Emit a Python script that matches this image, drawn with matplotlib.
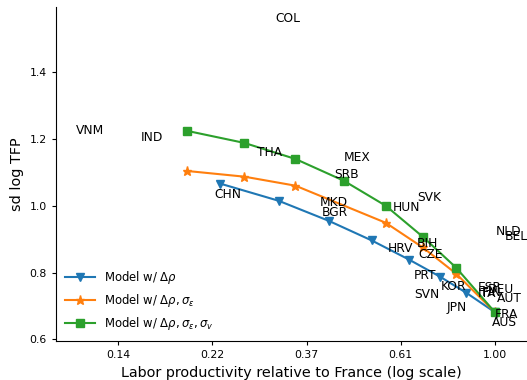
import numpy as np
import matplotlib
matplotlib.use("Agg")
import matplotlib.pyplot as plt

# log labor productivity relative to France (natural log), sd of log TFP
x_rho = [-1.457, -1.149, -0.883, -0.654, -0.457, -0.293, -0.154, 0.0]
y_rho = [1.066, 1.015, 0.955, 0.896, 0.839, 0.788, 0.740, 0.681]

x_eps = [-1.633, -1.330, -1.059, -0.580, -0.383, -0.207, 0.0]
y_eps = [1.104, 1.087, 1.060, 0.949, 0.875, 0.797, 0.681]

x_v = [-1.633, -1.330, -1.059, -0.803, -0.580, -0.383, -0.207, 0.0]
y_v = [1.224, 1.188, 1.140, 1.075, 1.000, 0.907, 0.815, 0.681]

countries = ['COL', 'VNM', 'IND', 'THA', 'MEX', 'SRB', 'CHN', 'MKD', 'BGR',
             'SVK', 'HUN', 'HRV', 'BIH', 'CZE', 'NLD', 'BEL', 'PRT', 'KOR',
             'SVN', 'ESP', 'DEU', 'ITA', 'FIN', 'AUT', 'JPN', 'FRA', 'AUS']
c_x = [-1.165, -2.223, -1.878, -1.261, -0.803, -0.851, -1.489, -0.931, -0.920,
       -0.415, -0.543, -0.569, -0.415, -0.404, 0.005, 0.053, -0.431, -0.287,
       -0.426, -0.090, -0.040, -0.090, -0.070, 0.011, -0.255, 0.0, -0.016]
c_y = [1.561, 1.224, 1.203, 1.158, 1.143, 1.093, 1.033, 1.009, 0.979,
       1.024, 0.994, 0.872, 0.887, 0.854, 0.922, 0.907, 0.791, 0.758,
       0.734, 0.755, 0.748, 0.738, 0.740, 0.722, 0.696, 0.675, 0.651]

tick_pos = [-2.0, -1.5, -1.0, -0.5, 0.0]

fig = plt.figure(figsize=(5.27, 3.80), dpi=100)
ax = fig.add_axes([56 / 527, 39 / 380, 1 - 56 / 527, 334 / 380])

ax.plot(x_rho, y_rho, marker='v', ms=6, color='tab:blue', label=r'Model w/ $\Delta\rho$')
ax.plot(x_eps, y_eps, marker='*', ms=6.5, color='tab:orange',
        label=r'Model w/ $\Delta\rho, \sigma_\varepsilon$')
ax.plot(x_v, y_v, marker='s', ms=5.5, color='tab:green',
        label=r'Model w/ $\Delta\rho, \sigma_\varepsilon, \sigma_v$')

for name, cx, cy in zip(countries, c_x, c_y):
    ax.text(cx, cy, name, va='center', ha='left', fontsize=8.8)

ax.set_xticks(tick_pos)
ax.set_xticklabels(['%.2f' % np.exp(t) for t in tick_pos])
ax.set_xlim(-2.33, 0.17)
ax.set_ylim(0.595, 1.595)
ax.tick_params(labelsize=7.8, length=3)
ax.spines['top'].set_visible(False)
ax.spines['right'].set_visible(False)
ax.set_xlabel('Labor productivity relative to France (log scale)', fontsize=10.4)
ax.set_ylabel('sd log TFP', fontsize=10.4)
ax.legend(loc='lower left', frameon=False, fontsize=8.4, handlelength=2.5,
          borderaxespad=0.4)

fig.savefig('out.png', dpi=100)
